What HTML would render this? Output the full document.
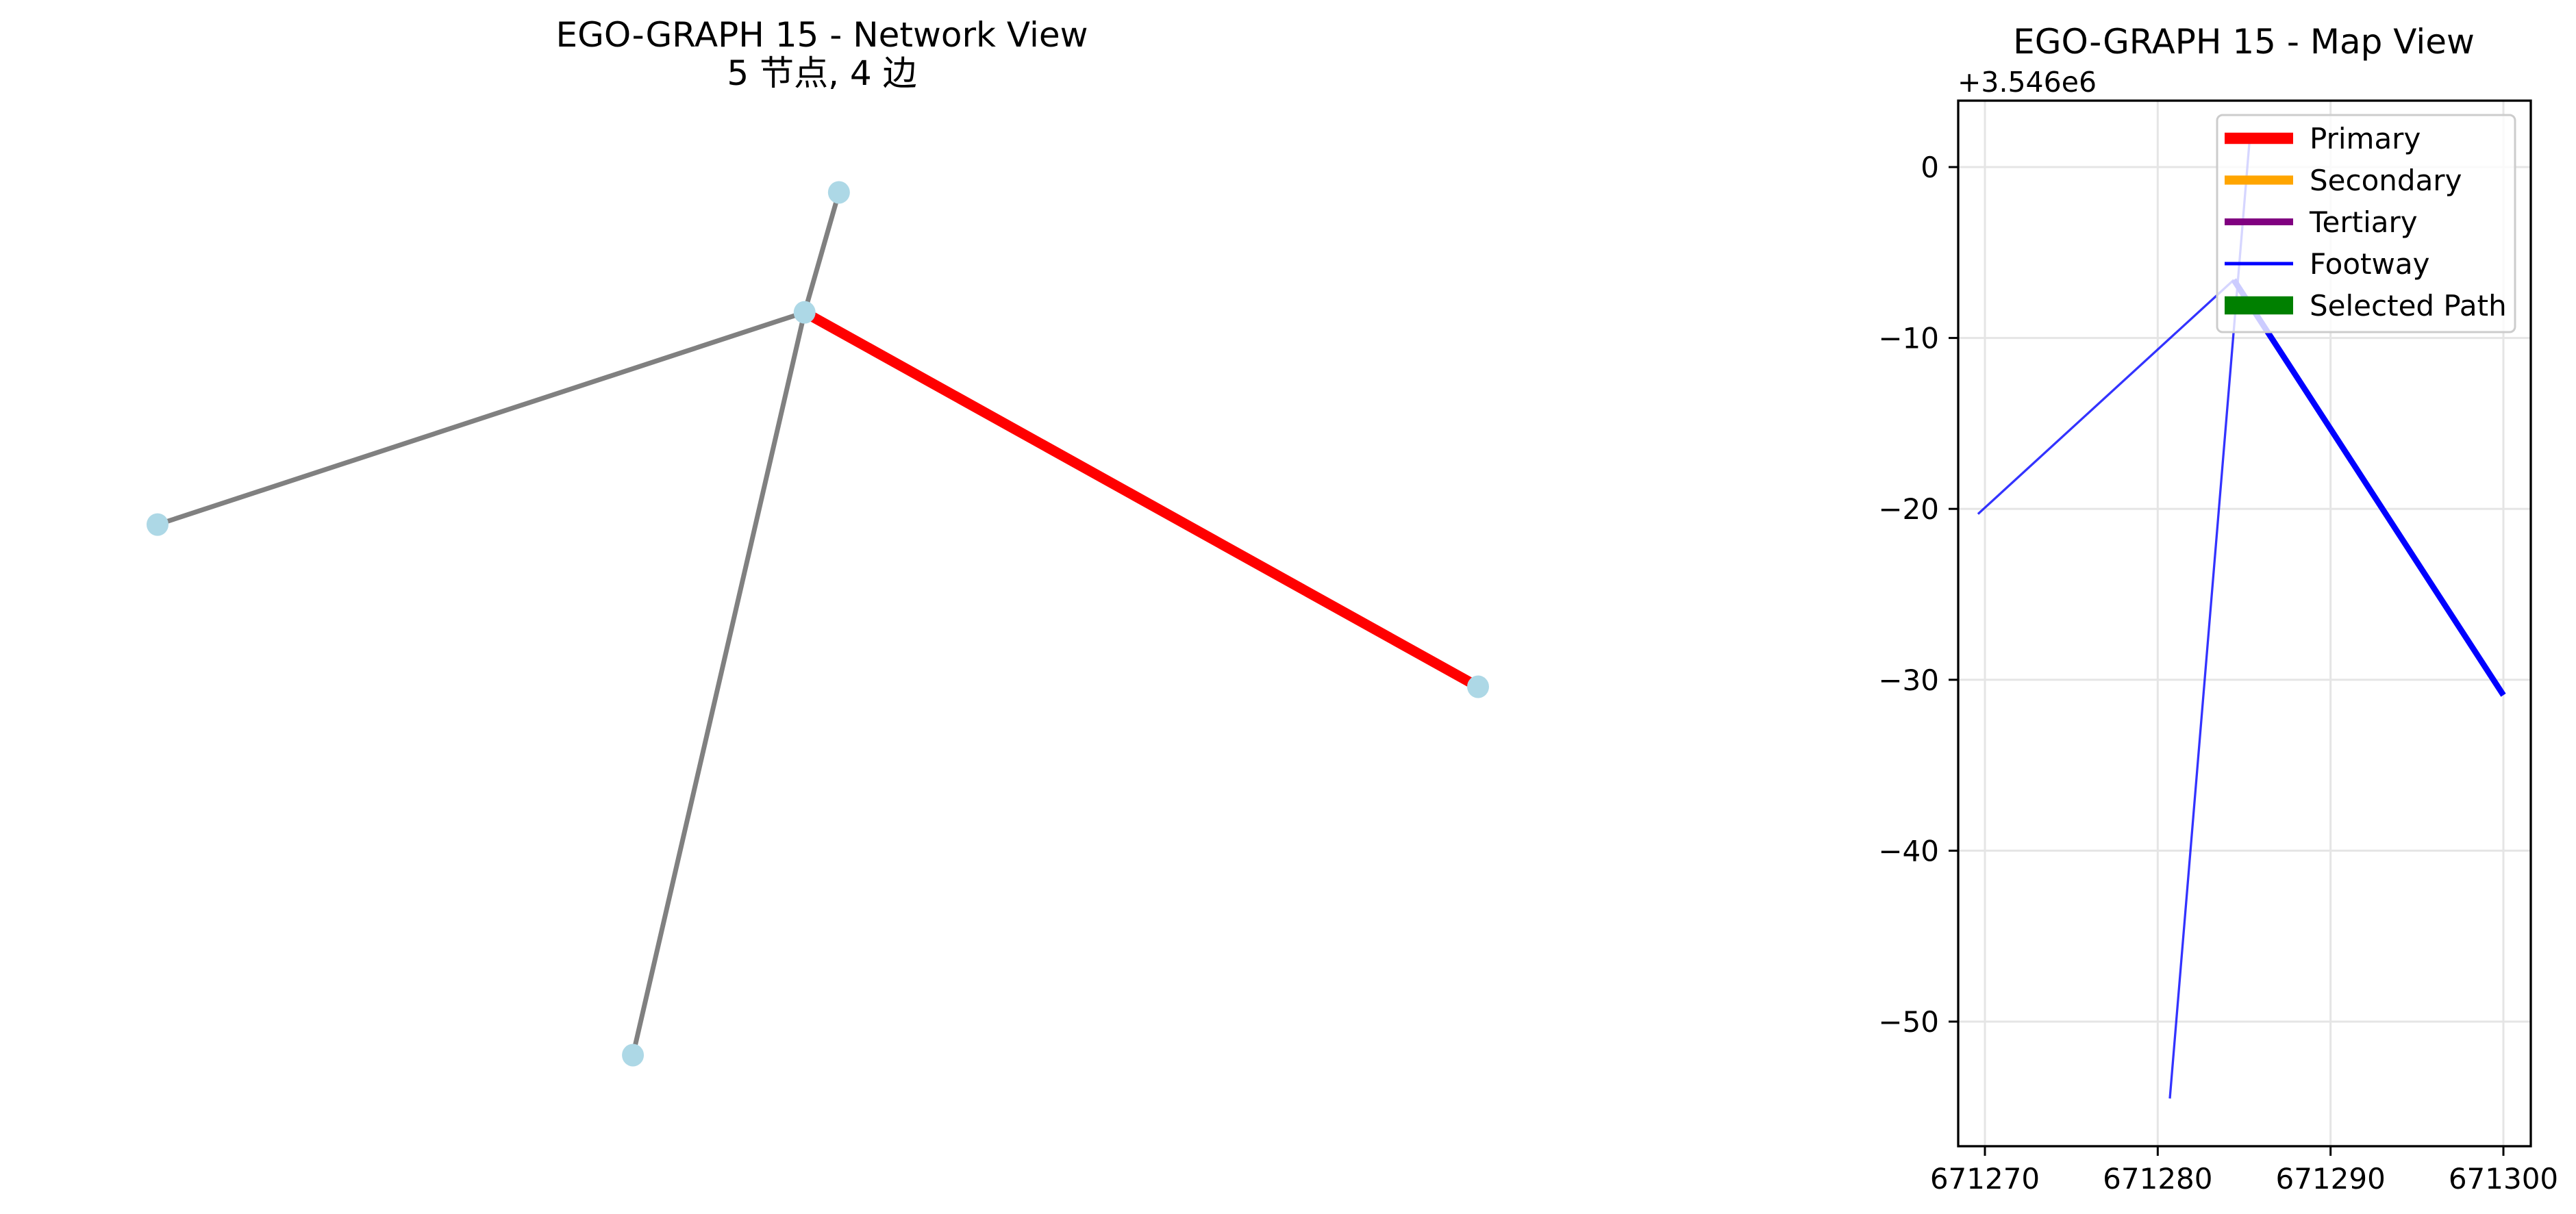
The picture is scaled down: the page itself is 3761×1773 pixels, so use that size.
<!DOCTYPE html>
<html><head><meta charset="utf-8"><style>
html,body{margin:0;padding:0;background:#fff}
svg{display:block}
text{font-family:"DejaVu Sans","Liberation Sans","Noto Sans CJK SC",sans-serif;fill:#000}
</style></head><body>
<svg id="fig" width="3761" height="1773" viewBox="0 0 3761 1773" xmlns="http://www.w3.org/2000/svg">
<g id="net">
<text x="1200" y="68" font-size="50" text-anchor="middle">EGO-GRAPH 15 - Network View</text>
<text x="1200" y="124" font-size="50" text-anchor="middle">5 节点, 4 边</text>
</g>
<g id="map">
<text x="3276" y="78" font-size="50" text-anchor="middle">EGO-GRAPH 15 - Map View</text>
<text x="2858" y="134" font-size="41">+3.546e6</text>
</g>
</svg>
<script>
// Network layout data
const nodeIds = ['a','b','c','d','e'];
const nodeX = [0.516, 0.490, 0.0, 0.360, 1.0];
const nodeY = [0.0, 0.139, 0.385, 1.0, 0.573];
const edgeFrom = [1, 1, 1, 1];
const edgeTo = [0, 2, 3, 4];
const edgeSelected = [false, false, false, true];

// Map data
const xTicks = [671270, 671280, 671290, 671300];
const yTicks = [0, -10, -20, -30, -40, -50];
const yTickLabels = ['0', '\u221210', '\u221220', '\u221230', '\u221240', '\u221250'];
const footwayX = [[671269.6, 671284.4], [671280.7, 671285.3], [671284.4, 671300.0]];
const footwayY = [[-20.3, -6.6], [-54.5, 1.4], [-6.6, -30.9]];
const footwayWidth = [1, 1, 2.6];
const legendLabels = ['Primary', 'Secondary', 'Tertiary', 'Footway', 'Selected Path'];
const legendColors = ['#ff0000', '#ffa500', '#800080', '#0000ff', '#008000'];
const legendWidths = [5, 4, 3, 1.5, 8];

const NS = 'http://www.w3.org/2000/svg';
function mk(tag, attrs, parent) {
  const el = document.createElementNS(NS, tag);
  for (const k in attrs) el.setAttribute(k, attrs[k]);
  parent.appendChild(el);
  return el;
}
const net = document.getElementById('net');
const map = document.getElementById('map');

// network axes
const nx = v => 230 + v * (2158 - 230);
const ny = v => 281 + v * (1541 - 281);
for (let i = 0; i < edgeFrom.length; i++) {
  const a = edgeFrom[i], b = edgeTo[i];
  const l = mk('line', {x1: nx(nodeX[a]), y1: ny(nodeY[a]), x2: nx(nodeX[b]), y2: ny(nodeY[b]),
    stroke: edgeSelected[i] ? '#ff0000' : '#808080', 'stroke-width': edgeSelected[i] ? 15 : 7}, net);
  
  
}
for (let i = 0; i < nodeIds.length; i++) {
  const c = mk('ellipse', {cx: nx(nodeX[i]), cy: ny(nodeY[i]), rx: 16, ry: 16.5, fill: '#add8e6'}, net);
  
  
}

// map axes
const L = 2859, R = 3695, T = 147, B = 1674;
const X0 = 671270, PX = (3655 - 2898) / 30;
const Y0 = 244, PY = 249.6 / 10;
const mx = v => 2898 + (v - X0) * PX;
const my = v => Y0 - v * PY;
const grid = mk('g', {stroke: '#e5e5e5', 'stroke-width': 3}, map);


xTicks.forEach(t => mk('line', {x1: mx(t), x2: mx(t), y1: T, y2: B}, grid));
yTicks.forEach(t => mk('line', {x1: L, x2: R, y1: my(t), y2: my(t)}, grid));

for (let i = 0; i < footwayX.length; i++) {
  const l = mk('line', {x1: mx(footwayX[i][0]), y1: my(footwayY[i][0]), x2: mx(footwayX[i][1]), y2: my(footwayY[i][1]),
    stroke: '#0000ff', 'stroke-opacity': footwayWidth[i] > 1 ? 1 : 0.8, 'stroke-width': footwayWidth[i] * 3.3}, map);
  
  
}

const frame = mk('rect', {x: L, y: T, width: R - L, height: B - T, fill: 'none', stroke: '#000', 'stroke-width': 3.3}, map);



xTicks.forEach(t => {
  mk('line', {x1: mx(t), x2: mx(t), y1: B, y2: B + 14, stroke: '#000', 'stroke-width': 3}, map);
  const tx = mk('text', {x: mx(t), y: B + 62, 'font-size': 42, 'text-anchor': 'middle'}, map);
  tx.textContent = String(t);
  
  
});
yTicks.forEach((t, i) => {
  mk('line', {x1: L - 14, x2: L, y1: my(t), y2: my(t), stroke: '#000', 'stroke-width': 3}, map);
  const tx = mk('text', {x: L - 28, y: my(t) + 15, 'font-size': 42, 'text-anchor': 'end'}, map);
  tx.textContent = yTickLabels[i];
  
  
});

// legend
const lg = mk('g', {}, map);


mk('rect', {x: 3237, y: 168, width: 435, height: 317, rx: 8, fill: '#fff', 'fill-opacity': 0.8, stroke: '#cccccc', 'stroke-width': 3}, lg);
legendLabels.forEach((lab, i) => {
  const y = 202 + i * 61;
  const h = mk('line', {x1: 3248, x2: 3348, y1: y, y2: y, stroke: legendColors[i], 'stroke-width': legendWidths[i] * 3.3}, lg);
  
  
  const t = mk('text', {x: 3372, y: y + 15, 'font-size': 42}, lg);
  t.textContent = lab;
  
  
});
</script>
</body></html>
